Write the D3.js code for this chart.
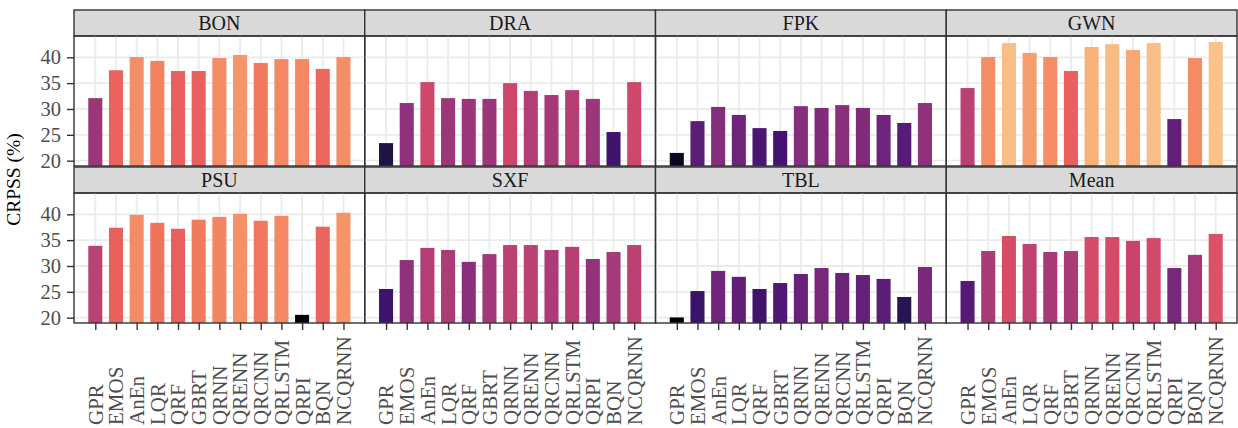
<!DOCTYPE html>
<html><head><meta charset="utf-8">
<script src="https://cdn.jsdelivr.net/npm/d3@7"></script>
<style>body{margin:0;background:#fff}svg{display:block}svg text{font-family:"Liberation Serif","DejaVu Serif","Times New Roman",serif !important}</style>
</head><body><svg id="c" width="1238" height="428"></svg>
<script>
const methods = ["GPR","EMOS","AnEn","LQR","QRF","GBRT","QRNN","QRENN","QRCNN","QRLSTM","QRPI","BQN","NCQRNN"];
const stations = ["BON","DRA","FPK","GWN","PSU","SXF","TBL","Mean"];
const BON = [32.1,37.5,40.05,39.3,37.35,37.35,39.85,40.45,38.9,39.65,39.65,37.75,40.05];
const DRA = [23.4,31.15,35.2,32.1,31.95,31.95,35.0,33.5,32.7,33.65,31.95,25.55,35.2];
const FPK = [21.5,27.65,30.4,28.85,26.3,25.75,30.55,30.2,30.75,30.2,28.85,27.3,31.15];
const GWN = [34.05,40.05,42.75,40.85,40.05,37.35,42.0,42.55,41.4,42.75,28.05,39.85,42.95];
const PSU = [33.9,37.4,39.9,38.35,37.2,38.95,39.5,40.1,38.75,39.7,20.55,37.6,40.3];
const SXF = [25.55,31.15,33.5,33.1,30.8,32.3,34.05,34.05,33.1,33.7,31.35,32.7,34.05];
const TBL = [20.05,25.15,29.05,27.9,25.55,26.7,28.45,29.6,28.65,28.25,27.5,24.0,29.8];
const Mean = [27.1,32.9,35.8,34.25,32.7,32.9,35.6,35.6,34.85,35.4,29.6,32.15,36.2];
const seriesValues = [BON,DRA,FPK,GWN,PSU,SXF,TBL,Mean];
const yTicks = [20,25,30,35,40];
const yTitle = "CRPSS (%)";

const svg = d3.select("#c");
const FONT = '"Liberation Serif","DejaVu Serif",serif';
const left = 74, panelW = 290.75, stripH = 26, panelH = 130;
const rowTop = [10, 167];
const all = seriesValues.flat();
const magma = d3.scaleSequential(t => d3.interpolateMagma(t*0.88)).domain([d3.min(all), d3.max(all)]);
const color = v => { const h = d3.hsl(magma(v)); h.s *= 0.9; h.l *= 0.98; return h.formatHex(); };
const border = "#333333";

stations.forEach((st, i) => {
  const col = i % 4, row = Math.floor(i / 4);
  const x0 = left + col*panelW, sTop = rowTop[row], pTop = sTop + stripH;
  const x = d3.scalePoint().domain(methods).range([x0, x0+panelW]).padding(1.03);
  const y = d3.scaleLinear().domain([18.97, 44.12]).range([pTop+panelH, pTop]);
  const g = svg.append("g");
  g.append("rect").attr("x", x0).attr("y", sTop).attr("width", panelW).attr("height", stripH)
    .attr("fill", "#d9d9d9").attr("stroke", border).attr("stroke-width", 1.4);
  g.append("text").attr("x", x0+panelW/2).attr("y", sTop+stripH/2).attr("dy", "0.35em")
    .attr("text-anchor", "middle").attr("font-size", 20).attr("font-family", FONT).attr("fill", "#1a1a1a").text(st);
  g.append("g").selectAll("line").data(yTicks).join("line")
    .attr("x1", x0).attr("x2", x0+panelW).attr("y1", d=>y(d)).attr("y2", d=>y(d))
    .attr("stroke", "#ebebeb").attr("stroke-width", 1.8);
  g.append("g").selectAll("line").data(methods).join("line")
    .attr("x1", d=>x(d)).attr("x2", d=>x(d)).attr("y1", pTop).attr("y2", pTop+panelH)
    .attr("stroke", "#ebebeb").attr("stroke-width", 1.8);
  const bw = x.step()*0.68;
  const vals = seriesValues[i];
  g.append("g").selectAll("rect").data(methods).join("rect")
    .attr("x", (d)=>x(d)-bw/2).attr("width", bw)
    .attr("y", (d,j)=>y(vals[j])).attr("height", (d,j)=>y(18.97)-y(vals[j]))
    .attr("fill", (d,j)=>color(vals[j]));
  g.append("rect").attr("x", x0).attr("y", pTop).attr("width", panelW).attr("height", panelH)
    .attr("fill", "none").attr("stroke", border).attr("stroke-width", 1.4);
  if (col === 0) {
    const ax = g.append("g").attr("transform", `translate(${x0},0)`)
      .call(d3.axisLeft(y).tickValues(yTicks).tickSize(7).tickPadding(6));
    ax.attr("font-family", FONT);
    ax.select(".domain").remove();
    ax.selectAll(".tick line").attr("stroke", border).attr("stroke-width", 1.4);
    ax.selectAll("text").attr("font-size", 20.5).attr("fill", "#4d4d4d");
  }
  if (row === 1) {
    const ax = g.append("g").attr("transform", `translate(0,${pTop+panelH})`)
      .call(d3.axisBottom(x).tickSize(7).tickPadding(3));
    ax.attr("font-family", FONT);
    ax.select(".domain").remove();
    ax.selectAll(".tick line").attr("stroke", border).attr("stroke-width", 1.4);
    ax.selectAll("text").attr("font-size", 21).attr("fill", "#4d4d4d")
      .attr("transform", "rotate(-90)").attr("text-anchor", "start")
      .attr("x", -102).attr("y", 0).attr("dy", "0.33em");
  }
});
svg.append("text").attr("transform", `translate(20,${(rowTop[0]+stripH+rowTop[1]+stripH+panelH)/2}) rotate(-90)`)
  .attr("text-anchor", "middle").attr("font-size", 19.5).attr("font-family", FONT).attr("fill", "#000").text(yTitle);
</script></body></html>
